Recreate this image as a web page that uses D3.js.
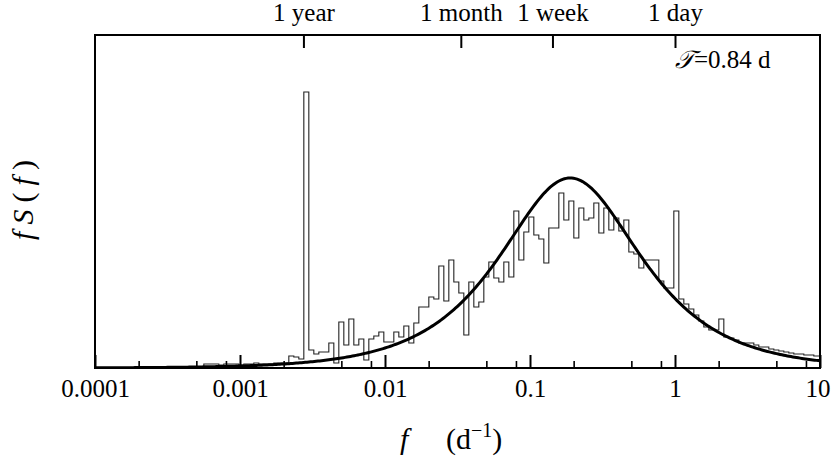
<!DOCTYPE html>
<html><head><meta charset="utf-8">
<script src="https://cdn.jsdelivr.net/npm/d3@7"></script>
<style>body{margin:0;background:#fff}</style>
</head><body>
<svg id="c" width="831" height="463"></svg>
<script>
// ---- data ----
const xTickValues = [1e-4, 1e-3, 1e-2, 1e-1, 1, 10];
const xTickLabels = ["0.0001", "0.001", "0.01", "0.1", "1", "10"];
const xMinorTicks = [2e-4, 5e-4, 8e-4, 2e-3, 5e-3, 8e-3, 2e-2, 5e-2, 8e-2, 0.2, 0.5, 0.8, 2, 5, 8];
const topTickValues = [1 / 365.25, 1 / 30, 1 / 7, 1];
const topTickLabels = ["1 year", "1 month", "1 week", "1 day"];
// histogram of f S(f): log-spaced bins (29 per decade) starting at histFirstEdge (d^-1)
const histFirstEdge = 5.63e-4;
const histBinsPerDecade = 29;
const histValues = [
  0.04,0.04,0.04,0.03,0.04,0.04,0.04,0.03,0.04,0.04,0.05,0.04,0.04,0.04,0.05,0.05,0.05,
  0.12,0.11,0.09,2.76,0.18,0.14,0.16,0.16,0.25,0.05,0.46,0.23,0.49,0.23,0.29,0.08,0.29,0.32,
  0.36,0.26,0.26,0.36,0.31,0.42,0.25,0.45,0.61,0.61,0.71,0.69,1.02,0.67,1.08,0.86,0.75,0.33,
  0.86,0.61,0.66,0.91,1.06,0.90,0.86,1.06,0.91,1.57,1.08,1.36,1.51,1.33,1.29,1.05,1.40,1.40,
  1.75,1.48,1.67,1.30,1.60,1.48,1.50,1.65,1.35,1.60,1.38,1.50,1.37,1.48,1.16,1.14,1.00,1.08,
  1.08,1.08,0.87,0.80,0.80,1.57,0.69,0.64,0.59,0.53,0.47,0.41,0.38,0.38,0.49,0.31,0.30,0.28,
  0.25,0.25,0.25,0.23,0.21,0.21,0.19,0.18,0.17,0.16,0.15,0.14,0.14,0.13,0.13,0.12,0.12
];
// damped-random-walk model f S(f) with timescale tau (days)
const modelTau = 0.84;
const modelAmplitude = 1.90;
const annotation = "=0.84 d";

// ---- chart ----
const svg = d3.select("#c");
const m = {left: 95, right: 820, top: 35, bottom: 368};
const x = d3.scaleLog().domain([1e-4, 10]).range([m.left, m.right]);
const y = d3.scaleLinear().domain([0, 3.33]).range([m.bottom, m.top]);
const font = "Liberation Serif, DejaVu Serif, serif";

svg.append("defs").append("clipPath").attr("id", "clip").append("rect")
  .attr("x", m.left).attr("y", m.top).attr("width", m.right - m.left).attr("height", m.bottom - m.top);

// histogram (step outline)
const edges = d3.range(histValues.length + 1).map(i => histFirstEdge * Math.pow(10, i / histBinsPerDecade));
const pts = [[edges[0], 0]];
histValues.forEach((v, i) => { pts.push([edges[i], v]); pts.push([edges[i + 1], v]); });
pts.push([edges[edges.length - 1], 0]);
const line = d3.line().x(d => x(d[0])).y(d => y(d[1]));
svg.append("path").attr("d", line(pts)).attr("fill", "none")
  .attr("stroke", "#222").attr("stroke-width", 1.1).attr("clip-path", "url(#clip)");

// model curve
const model = f => { const u = 2 * Math.PI * f * modelTau; return modelAmplitude * 2 * u / (1 + u * u); };
const fs = d3.range(0, 401).map(i => Math.pow(10, -4 + 5 * i / 400));
svg.append("path").attr("d", d3.line().x(f => x(f)).y(f => y(model(f)))(fs))
  .attr("fill", "none").attr("stroke", "#000").attr("stroke-width", 3).attr("clip-path", "url(#clip)");

// bottom axis (ticks inward)
const gB = svg.append("g").attr("transform", `translate(0,${m.bottom})`)
  .call(d3.axisBottom(x).tickValues(xTickValues).tickFormat((d, i) => xTickLabels[i]).tickSize(-13).tickPadding(0));
gB.select(".domain").remove();
gB.attr("font-family", font).attr("font-size", 25);
gB.selectAll("line").attr("stroke", "#000").attr("stroke-width", 2);
gB.selectAll("text").attr("y", 29).attr("dy", null).attr("fill", "#000")
  .attr("dx", (d, i) => i === xTickValues.length - 1 ? -2.5 : 0);

const gM = svg.append("g").attr("transform", `translate(0,${m.bottom})`)
  .call(d3.axisBottom(x).tickValues(xMinorTicks).tickFormat("").tickSize(-7));
gM.select(".domain").remove();
gM.selectAll("line").attr("stroke", "#000").attr("stroke-width", 1.6);

// top axis
const gT = svg.append("g").attr("transform", `translate(0,${m.top})`)
  .call(d3.axisTop(x).tickValues(topTickValues).tickFormat((d, i) => topTickLabels[i]).tickSize(-13).tickPadding(0));
gT.select(".domain").remove();
gT.attr("font-family", font).attr("font-size", 25);
gT.selectAll("line").attr("stroke", "#000").attr("stroke-width", 2);
gT.selectAll("text").attr("y", -14).attr("dy", null).attr("fill", "#000");

// frame
svg.append("rect").attr("x", m.left).attr("y", m.top).attr("width", m.right - m.left).attr("height", m.bottom - m.top)
  .attr("fill", "none").attr("stroke", "#000").attr("stroke-width", 2);

// annotation
const ann = svg.append("text").attr("x", 675).attr("y", 68).attr("font-family", font).attr("font-size", 25);
ann.append("tspan").attr("font-family", "DejaVu Serif, serif").attr("font-style", "italic").text("\u{1D4AF}");
ann.append("tspan").text(annotation);

// x title
const xt = svg.append("text").attr("x", 400).attr("y", 449).attr("font-family", font).attr("font-size", 30);
xt.append("tspan").attr("font-style", "italic").text("f");
xt.append("tspan").attr("x", 446).text("(d");
xt.append("tspan").attr("dy", -12).attr("font-size", 20).text("\u22121");
xt.append("tspan").attr("dy", 12).text(")");

// y title
const yt = svg.append("text").attr("transform", "translate(33,200) rotate(-90)")
  .attr("text-anchor", "middle").attr("font-family", font).attr("font-size", 30)
  .attr("textLength", 80).attr("lengthAdjust", "spacing");
yt.append("tspan").attr("font-style", "italic").text("fS");
yt.append("tspan").text("(");
yt.append("tspan").attr("font-style", "italic").text("f");
yt.append("tspan").text(")");
</script>
</body></html>
